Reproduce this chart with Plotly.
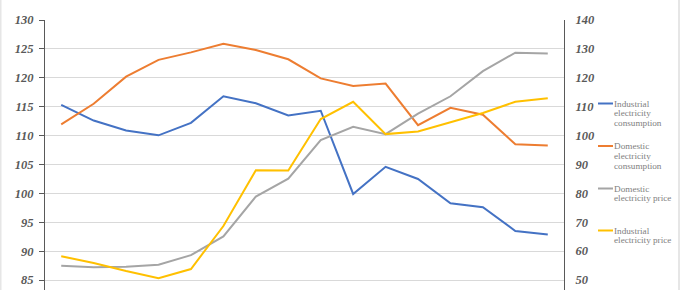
import plotly.graph_objects as go

# ---- data ----
periods = list(range(16))

industrial_consumption = [115.3, 112.6, 110.9, 110.05, 112.2, 116.8, 115.6, 113.5,
                          114.3, 99.9, 104.6, 102.5, 98.3, 97.6, 93.5, 92.9]
domestic_consumption = [111.95, 115.5, 120.2, 123.1, 124.4, 125.9, 124.8, 123.2,
                        119.9, 118.6, 119.0, 111.8, 114.8, 113.6, 108.5, 108.3]
domestic_price = [54.9, 54.4, 54.6, 55.3, 58.6, 65.1, 78.9, 85.1,
                  98.4, 103.0, 100.5, 107.6, 113.6, 122.3, 128.7, 128.4]
industrial_price = [58.2, 55.9, 53.1, 50.6, 53.8, 68.7, 88.0, 87.9,
                    105.7, 111.7, 100.5, 101.4, 104.6, 107.8, 111.7, 112.9]

series_names = ["Industrial<br>electricity<br>consumption",
                "Domestic<br>electricity<br>consumption",
                "Domestic<br>electricity price",
                "Industrial<br>electricity price"]
series_colors = ["#4472C4", "#ED7D31", "#A5A5A5", "#FFC000"]

left_ticks = [85, 90, 95, 100, 105, 110, 115, 120, 125, 130]
right_ticks = [50, 60, 70, 80, 90, 100, 110, 120, 130, 140]

# ---- layout geometry ----
W, H = 680, 290
ML, MR, MT, MB = 45, 116, 20, 0
PW = W - ML - MR
PH = H - MT - MB

SERIF = "Liberation Serif"

fig = go.Figure()
series = [(industrial_consumption, "y"), (domestic_consumption, "y"),
          (domestic_price, "y2"), (industrial_price, "y2")]
for (vals, ax), name, col in zip(series, series_names, series_colors):
    fig.add_trace(go.Scatter(x=periods, y=vals, yaxis=ax, mode="lines",
                             name=name, line=dict(color=col, width=2),
                             showlegend=False))

tick_font = dict(family=SERIF, size=12.5, color="#595959")

def bi(vals):
    return ["<b><i>%d</i></b>" % v for v in vals]

fig.update_layout(
    width=W, height=H,
    font=dict(family=SERIF),
    margin=dict(l=ML, r=MR, t=MT, b=MB),
    paper_bgcolor="white", plot_bgcolor="white",
    xaxis=dict(range=[-0.5, 15.5], showticklabels=False, showgrid=False,
               zeroline=False, showline=False, ticks=""),
    yaxis=dict(range=[130 - PH / 5.78, 130], tickvals=left_ticks,
               ticktext=bi(left_ticks),
               showgrid=True, gridcolor="#D9D9D9", gridwidth=1,
               zeroline=False, showline=True, linecolor="#595959", linewidth=1,
               ticks="outside", ticklen=5, tickcolor="#595959",
               ticklabelstandoff=3, tickfont=tick_font),
    yaxis2=dict(range=[140 - PH / 2.889, 140], tickvals=right_ticks,
                ticktext=bi(right_ticks),
                overlaying="y", side="right", showgrid=False, zeroline=False,
                showline=True, linecolor="#595959", linewidth=1,
                ticks="", ticklabelstandoff=8, tickfont=tick_font),
    showlegend=False,
)

# ---- manual legend ----
def px_x(p):
    return (p - ML) / PW

def px_y(p):
    return 1 - (p - MT) / PH

legend_y = [103.5, 146, 188.5, 230.5]
line_h = 9.8
for name, col, ly in zip(series_names, series_colors, legend_y):
    fig.add_shape(type="line", xref="paper", yref="paper",
                  x0=px_x(598), x1=px_x(613), y0=px_y(ly), y1=px_y(ly),
                  line=dict(color=col, width=2))
    for i, part in enumerate(name.split("<br>")):
        fig.add_annotation(xref="paper", yref="paper", x=px_x(612),
                           y=px_y(ly + i * line_h), xanchor="left",
                           yanchor="middle", text=part, showarrow=False,
                           font=dict(family=SERIF, size=9.2,
                                     color="#808080"))

# page frame edges
for xp in (0.5, 679):
    fig.add_shape(type="line", xref="paper", yref="paper",
                  x0=px_x(xp), x1=px_x(xp), y0=px_y(0), y1=px_y(H),
                  line=dict(color="#E6E6E6", width=2))

fig.write_html("out.html")
